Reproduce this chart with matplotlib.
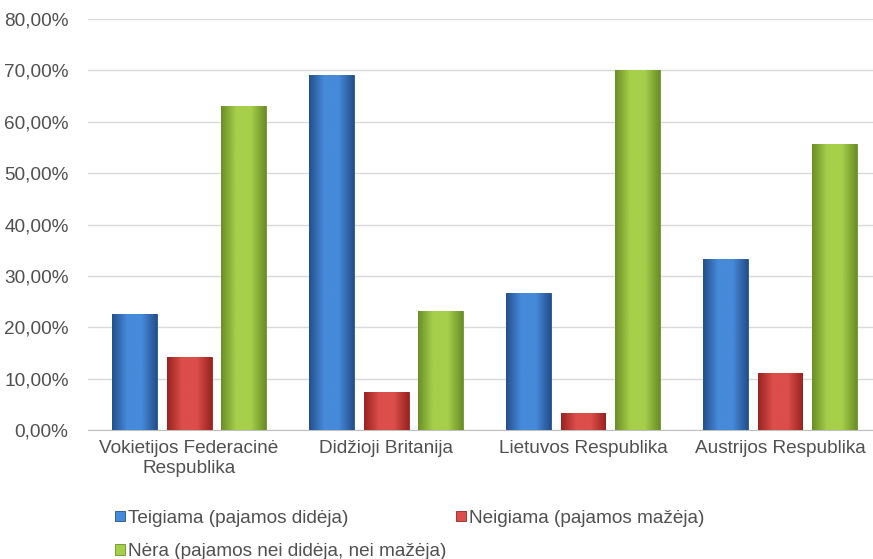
import numpy as np
import matplotlib.pyplot as plt
from matplotlib.colors import LinearSegmentedColormap
from matplotlib.ticker import FuncFormatter

plt.rcParams['font.family'] = ['Liberation Sans', 'DejaVu Sans']

# duomenys
salys = ["Vokietijos Federacinė\nRespublika", "Didžioji Britanija",
         "Lietuvos Respublika", "Austrijos Respublika"]
teigiama = [22.6, 69.1, 26.7, 33.3]
neigiama = [14.3, 7.4, 3.3, 11.1]
nera = [63.1, 23.2, 70.0, 55.6]
serijos = ["Teigiama (pajamos didėja)", "Neigiama (pajamos mažėja)",
           "Nėra (pajamos nei didėja, nei mažėja)"]

spalvos = [("#24508c", "#468ada"), ("#9a2320", "#dc4e4a"), ("#6b8f27", "#a6cf4a")]

fig = plt.figure(figsize=(8.73, 5.59), dpi=100)
ax = fig.add_axes([88 / 873, 1 - 430 / 559, 785 / 873, 411 / 559])

x = np.arange(len(salys))
plotis = 0.228
tarpas = 0.277

for i, (reiksmes, pavad, (tamsi, sviesi)) in enumerate(zip([teigiama, neigiama, nera], serijos, spalvos)):
    bars = ax.bar(x + (i - 1) * tarpas, reiksmes, plotis, color=sviesi,
                  edgecolor=tamsi, linewidth=0.6, label=pavad, zorder=3)
    cmap = LinearSegmentedColormap.from_list("g", [tamsi, sviesi, sviesi, tamsi])
    grad = np.linspace(0, 1, 64).reshape(1, -1)
    for b in bars:
        bx, bw, bh = b.get_x(), b.get_width(), b.get_height()
        im = ax.imshow(grad, cmap=cmap, aspect="auto", zorder=3.5,
                       extent=(bx, bx + bw, 0, bh), interpolation="bicubic")
        im.set_clip_path(b)

ax.set_xlim(-0.513, 3.472)
ax.set_ylim(0, 80)
ax.set_yticks(np.arange(0, 81, 10))
ax.yaxis.set_major_formatter(FuncFormatter(lambda v, p: f"{v:.2f}%".replace(".", ",")))
ax.set_xticks(x)
ax.set_xticklabels(salys, linespacing=1.25)
ax.tick_params(length=0, labelsize=13.7, colors="#505050")
ax.tick_params(axis="y", pad=14)
ax.tick_params(axis="x", pad=7)
ax.grid(axis="y", color="#d9d9d9", linewidth=1, zorder=0)
for s in ["left", "right", "top"]:
    ax.spines[s].set_visible(False)
ax.spines["bottom"].set_color("#bfbfbf")

h, l = ax.get_legend_handles_labels()
tvarka = [0, 2, 1]
fig.legend([h[k] for k in tvarka], [l[k] for k in tvarka], ncol=2,
           loc="upper left", bbox_to_anchor=(0.132, 0.088), frameon=False,
           fontsize=13.7, handlelength=0.5, handleheight=0.5, handletextpad=0.15,
           columnspacing=0.55, labelspacing=0.85, labelcolor="#505050",
           borderaxespad=0, borderpad=0)

fig.savefig("out.png", dpi=100)
